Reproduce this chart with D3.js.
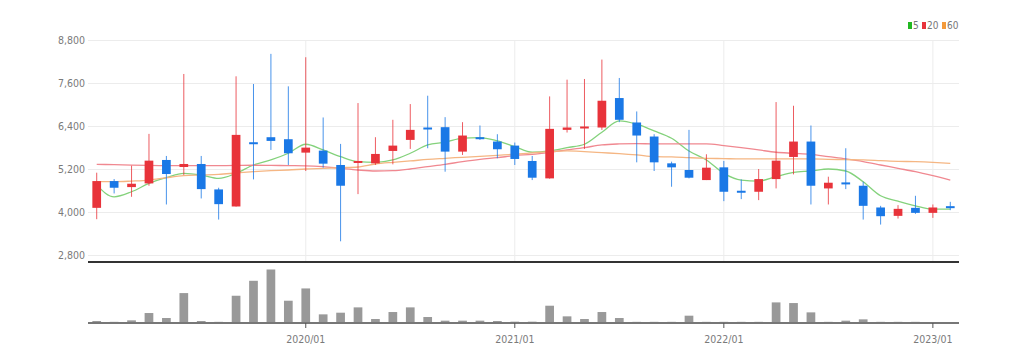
<!DOCTYPE html>
<html>
<head>
<meta charset="utf-8">
<script src="https://cdn.jsdelivr.net/npm/d3@7"></script>
<style>
    body { margin: 0; background: #fff; }
    text { font-family: "DejaVu Sans Condensed", "Liberation Sans Narrow", "DejaVu Sans", sans-serif; font-stretch: condensed; }
</style>
</head>
<body>
<div id="chart"></div>
<script>
// monthly data 2019/01 - 2023/02 ------------------------------------------------
const months = [
    "2019/01","2019/02","2019/03","2019/04","2019/05","2019/06","2019/07","2019/08","2019/09","2019/10","2019/11","2019/12",
    "2020/01","2020/02","2020/03","2020/04","2020/05","2020/06","2020/07","2020/08","2020/09","2020/10","2020/11","2020/12",
    "2021/01","2021/02","2021/03","2021/04","2021/05","2021/06","2021/07","2021/08","2021/09","2021/10","2021/11","2021/12",
    "2022/01","2022/02","2022/03","2022/04","2022/05","2022/06","2022/07","2022/08","2022/09","2022/10","2022/11","2022/12",
    "2023/01","2023/02"
];
const openP = [4116,4863,4695,4798,5452,5256,5340,4630,4154,5947,6087,6031,5657,5713,5312,5377,5358,5704,6012,6358,6367,5685,6087,5966,5853,5424,4938,6292,6339,6358,7180,6498,6106,5358,5172,4891,5246,4593,4565,4919,5536,5966,4658,4826,4733,4126,3892,4116,3976,4163];
const highP = [5097,4919,5293,6180,5564,7852,5564,4677,7787,7572,8413,7507,8319,6638,5900,7040,6087,6573,7012,7245,6647,6507,6414,6171,5938,5564,7226,7693,7712,8254,7740,6806,6171,5405,6292,5611,5424,4910,5200,7068,6965,6414,4985,5779,4845,4172,4191,4452,4210,4284];
const lowP = [3799,4518,4424,4733,4210,5032,4378,3789,4150,4910,5732,5312,5144,5237,3182,4499,5312,5330,5760,5779,5125,5592,6012,5499,5312,4891,4930,6218,5760,6292,6507,5386,5144,4705,4938,4891,4303,4359,4331,4658,5050,4210,4210,4639,3789,3649,3817,3948,3836,4051];
const closeP = [4863,4677,4789,5433,5060,5340,4639,4219,6152,5910,5984,5639,5797,5349,4733,5424,5620,5853,6292,6302,5685,6134,6040,5751,5480,4957,6320,6358,6386,7105,6573,6134,5386,5246,4957,5237,4565,4546,4919,5433,5966,4733,4817,4770,4172,3883,4088,3976,4126,4116];
const volume = [60,35,80,300,150,900,60,35,820,1270,1610,670,1040,260,310,470,120,330,470,180,70,70,70,60,40,40,520,200,120,330,150,35,35,35,220,35,35,35,35,620,600,320,35,70,110,35,35,35,25,20];

// moving averages
const ma5 = [4751,4424,4565,4798,4957,5078,5032,4938,5078,5312,5452,5639,5891,5732,5545,5405,5386,5452,5639,5872,5947,6059,6078,5984,5825,5667,5704,5797,5891,6227,6545,6451,6264,6059,5704,5452,5078,4891,4863,4985,5106,5144,5200,5144,4845,4452,4303,4172,4079,4079];
const ma20 = [5330,5320,5310,5300,5295,5293,5293,5295,5300,5305,5300,5295,5290,5265,5218,5172,5144,5153,5200,5265,5330,5405,5470,5517,5573,5611,5667,5732,5797,5872,5900,5910,5900,5900,5900,5900,5853,5797,5732,5667,5639,5611,5545,5480,5405,5312,5218,5125,5013,4891];
const ma60 = [4845,4845,4863,4891,4957,5013,5032,5050,5088,5125,5153,5172,5200,5218,5237,5256,5340,5386,5424,5470,5499,5527,5555,5583,5611,5648,5685,5704,5685,5657,5629,5592,5545,5536,5517,5499,5489,5480,5480,5480,5480,5480,5470,5461,5452,5433,5414,5405,5386,5358];

const priceTicks = [2800, 4000, 5200, 6400, 7600, 8800];
const yearTicks = ["2020/01", "2021/01", "2022/01", "2023/01"];
const maNames = ["5", "20", "60"];

// set up svg area
const svgWidth = 1024;
const svgHeight = 364;

const left = 88;
const right = 959;
const priceTop = 40;
const priceBottom = 255;
const splitY = 262;
const volBottom = 323;

const upColor = "#e8333a";
const downColor = "#1a78e6";
const maColors = ["#84d27c", "#f08890", "#f5b683"];
const legendColors = ["#22b822", "#e8333a", "#f49a3a"];

const svg = d3.select("#chart").append("svg")
    .attr("width", svgWidth)
    .attr("height", svgHeight);

// scales
const x = d3.scaleBand()
    .domain(months)
    .range([left, right])
    .paddingInner(0.5)
    .paddingOuter(0.25);

const cx = m => x(m) + x.bandwidth() / 2;

const y = d3.scaleLinear()
    .domain([2800, 8800])
    .range([priceBottom, priceTop]);

const yVol = d3.scaleLinear()
    .domain([0, d3.max(volume) * 1.14])
    .range([volBottom, splitY]);

// y axis with gridlines
const yAxisG = svg.append("g")
    .attr("transform", `translate(${left}, 0)`)
    .call(d3.axisLeft(y)
        .tickValues(priceTicks)
        .tickSize(-(right - left))
        .tickPadding(3)
        .tickFormat(d3.format(",")));

yAxisG.select(".domain").remove();
yAxisG.selectAll(".tick line")
    .attr("stroke", "#ececec");
yAxisG.selectAll(".tick text")
    .attr("fill", "#7a7a7a")
    .attr("font-size", 10.5);

// vertical year gridlines in price panel
svg.append("g")
    .selectAll("line")
    .data(yearTicks)
    .enter()
    .append("line")
    .attr("x1", d => cx(d))
    .attr("x2", d => cx(d))
    .attr("y1", priceTop)
    .attr("y2", splitY)
    .attr("stroke", "#ececec");

// moving average lines
const maData = [ma5, ma20, ma60];
const line = d3.line()
    .x((d, i) => cx(months[i]))
    .y(d => y(d))
    .curve(d3.curveMonotoneX);

svg.append("g")
    .selectAll("path")
    .data(maData)
    .enter()
    .append("path")
    .attr("d", d => line(d))
    .attr("fill", "none")
    .attr("stroke", (d, i) => maColors[i])
    .attr("stroke-width", 1.3);

// candles
const candles = months.map((m, i) => ({
    m: m, o: openP[i], h: highP[i], l: lowP[i], c: closeP[i]
}));
const candleColor = d => d.c >= d.o ? upColor : downColor;

const candleG = svg.append("g")
    .selectAll("g")
    .data(candles)
    .enter()
    .append("g");

candleG.append("line")
    .attr("x1", d => cx(d.m))
    .attr("x2", d => cx(d.m))
    .attr("y1", d => y(d.h))
    .attr("y2", d => y(d.l))
    .attr("stroke", candleColor)
    .attr("stroke-opacity", 0.8)
    .attr("stroke-width", 1);

candleG.append("rect")
    .attr("x", d => x(d.m))
    .attr("width", x.bandwidth())
    .attr("y", d => y(Math.max(d.o, d.c)))
    .attr("height", d => Math.max(2, Math.abs(y(d.o) - y(d.c))))
    .attr("fill", candleColor);

// separator line between panels
svg.append("line")
    .attr("x1", left)
    .attr("x2", right)
    .attr("y1", splitY)
    .attr("y2", splitY)
    .attr("stroke", "#333")
    .attr("stroke-width", 2);

// volume bars
svg.append("g")
    .selectAll("rect")
    .data(volume)
    .enter()
    .append("rect")
    .attr("x", (d, i) => x(months[i]))
    .attr("width", x.bandwidth())
    .attr("y", d => yVol(d))
    .attr("height", d => volBottom - yVol(d))
    .attr("fill", "#999");

// x axis under volume panel
const xAxisG = svg.append("g")
    .attr("transform", `translate(0, ${volBottom})`)
    .call(d3.axisBottom(x)
        .tickValues(yearTicks)
        .tickSize(5)
        .tickPadding(8));

xAxisG.select(".domain")
    .attr("stroke", "#777")
    .attr("stroke-width", 2)
    .attr("d", `M${left},0H${right}`);
xAxisG.selectAll(".tick line")
    .attr("stroke", "#555");
xAxisG.selectAll(".tick text")
    .attr("fill", "#7a7a7a")
    .attr("font-size", 10.5);

// legend
const legend = svg.append("g")
    .attr("transform", "translate(908, 22)");

const legendX = [0, 14, 34];
const legendItem = legend.selectAll("g")
    .data(maNames)
    .enter()
    .append("g")
    .attr("transform", (d, i) => `translate(${legendX[i]}, 0)`);

legendItem.append("rect")
    .attr("width", 4)
    .attr("height", 7)
    .attr("fill", (d, i) => legendColors[i]);

legendItem.append("text")
    .attr("x", 5)
    .attr("y", 7)
    .attr("font-size", 10)
    .attr("fill", "#777")
    .text(d => d);
</script>
</body>
</html>
